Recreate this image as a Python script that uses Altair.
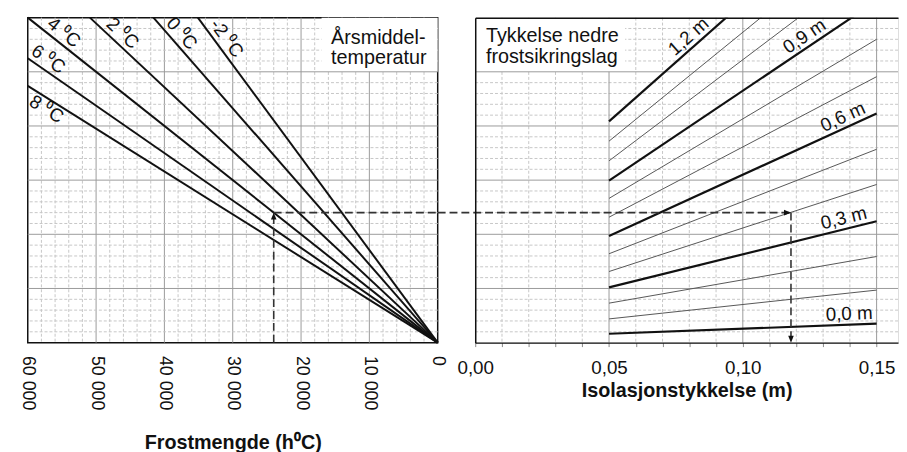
import math
import altair as alt
import numpy as np
import pandas as pd

FONT = "Liberation Sans"

# ---------------- data ----------------
# Left panel: frost amount lines per mean annual temperature
temp_names = ["8 ⁰C", "6 ⁰C", "4 ⁰C", "2 ⁰C", "0 ⁰C", "-2 ⁰C"]
temp_end_frost = [60000, 60000, 60000, 50900, 41600, 35100]
temp_end_depth = [4.74, 5.25, 6.0, 6.0, 6.0, 6.0]
temp_label_frost = [56500, 57900, 55700, 47200, 38650, 32170]
temp_label_below = [True, False, False, False, False, False]

# Right panel: lower frost protection layer thickness lines
layer_m = [0.0, 0.1, 0.2, 0.3, 0.4, 0.5, 0.6, 0.7, 0.8, 0.9, 1.0, 1.1, 1.2]
depth_at_start = [0.164, 0.438, 0.729, 1.021, 1.313, 1.641, 1.970, 2.316, 2.663, 2.991, 3.356, 3.720, 4.085]
depth_at_end = [0.35, 0.97, 1.59, 2.24, 2.92, 3.57, 4.23, 4.91, 5.60, 6.31, 7.09, 7.74, 8.46]
iso_start = 0.05
iso_end = 0.15
thick_layers = [0.0, 0.3, 0.6, 0.9, 1.2]
label_texts = ["0,0 m", "0,3 m", "0,6 m", "0,9 m", "1,2 m"]
label_iso = [0.1399, 0.1387, 0.1391, 0.1253, 0.0824]

frost_ticks = [0, 10000, 20000, 30000, 40000, 50000, 60000]
iso_ticks = [round(i * 0.01, 2) for i in range(0, 16)]

# worked example (dashed arrows)
example_frost = 24000
example_depth = 2.4
example_iso = 0.118

# ---------------- layout ----------------
W1, W2, H = 415, 428, 329
GAP = 38
FROST_MAX = 60000
ISO_MAX = 0.158
DEPTH_MAX = 6

MAJOR = "#9a9a9a"
MINOR = "#c6c6c6"
INK = "#111111"
DASH = "#333333"

xs_left = alt.Scale(domain=[0, FROST_MAX], reverse=True, nice=False, zero=False)
xs_right = alt.Scale(domain=[0, ISO_MAX], nice=False, zero=False)
ys = alt.Scale(domain=[0, DEPTH_MAX], nice=False, zero=False)

# grid tables
fg = pd.DataFrame({"F": np.arange(1, 30) * 2000})
fg["major"] = (np.arange(1, 30) % 5) == 0
dg = pd.DataFrame({"D": np.round(np.arange(1, 30) * 0.2, 1)})
dg["major"] = (np.arange(1, 30) % 5) == 0
ig = pd.DataFrame({"F": np.round(np.arange(1, 16) * 0.01, 2)})
ig["major"] = (np.arange(1, 16) % 5) == 0

left_axis = alt.Axis(
    values=frost_ticks, labelAngle=90,
    labelExpr="replace(format(datum.value, ','), ',', ' ')",
    ticks=False, domain=False, grid=False, labelPadding=13,
    labelFontSize=18, labelFont=FONT, labelColor=INK,
    labelFlush=False, labelOverlap=False,
    title="Frostmengde (h⁰C)", titleFont=FONT, titleFontSize=20,
    titleFontWeight="bold", titleColor=INK, titleY=107, titleBaseline="alphabetic",
)

right_axis = alt.Axis(
    values=iso_ticks,
    labelExpr="round(datum.value*100) % 5 == 0 ? replace(format(datum.value, '.2f'), '.', ',') : ''",
    ticks=True, tickSize=4, tickColor="#888888", tickWidth=1,
    domain=True, domainColor=INK, domainWidth=1.5, grid=False,
    labelPadding=12, labelFontSize=19, labelFont=FONT, labelColor=INK,
    labelFlush=False, labelOverlap=False,
    title="Isolasjonstykkelse (m)", titleFont=FONT, titleFontSize=20,
    titleFontWeight="bold", titleColor=INK, titleY=55, titleBaseline="alphabetic",
    zindex=1,
)
top_axis = alt.Axis(orient="top", labels=False, ticks=False, grid=False, domain=True,
                    domainColor=INK, domainWidth=1.5, title=None, zindex=1)
left_y_axis = alt.Axis(orient="left", labels=False, ticks=False, grid=False, domain=True,
                       domainColor=INK, domainWidth=1.5, title=None, zindex=1)


def xl(axis=None):
    return alt.X("F:Q", scale=xs_left, axis=axis)


def xr(axis=None):
    return alt.X("F:Q", scale=xs_right, axis=axis)


def yy(axis=None):
    return alt.Y("D:Q", scale=ys, axis=axis)


# ---------------- left panel ----------------
l_minor_v = alt.Chart(fg[~fg.major]).mark_rule(color=MINOR, strokeDash=[3, 2], strokeWidth=1).encode(x=xl(left_axis))
l_major_v = alt.Chart(fg[fg.major]).mark_rule(color=MAJOR, strokeWidth=1).encode(x=xl())
l_minor_h = alt.Chart(dg[~dg.major]).mark_rule(color=MINOR, strokeDash=[3, 2], strokeWidth=1).encode(y=yy())
l_box = alt.Chart(pd.DataFrame({"F": [17000], "F2": [0], "D": [5.0], "D2": [6.0]})).mark_rect(
    color="white").encode(x=xl(), x2="F2:Q", y=yy(), y2="D2:Q")
l_major_h = alt.Chart(dg[dg.major]).mark_rule(color=MAJOR, strokeWidth=1).encode(y=yy())

rows = []
for n, f, d in zip(temp_names, temp_end_frost, temp_end_depth):
    rows.append({"name": n, "F": 0, "D": 0})
    rows.append({"name": n, "F": f, "D": d})
l_lines = alt.Chart(pd.DataFrame(rows)).mark_line(color=INK, strokeWidth=2).encode(
    x=xl(), y=yy(), detail="name:N")

lab = []
for n, f, d, lf, below in zip(temp_names, temp_end_frost, temp_end_depth, temp_label_frost, temp_label_below):
    ang = math.degrees(math.atan2(d / DEPTH_MAX * H, f / FROST_MAX * W1))
    lab.append({"name": n, "F": lf, "D": d * lf / f, "angle": ang, "below": below})
lab = pd.DataFrame(lab)
l_lab_above = alt.Chart(lab[~lab.below]).mark_text(
    align="center", baseline="bottom", dy=-1, fontSize=19, font=FONT, color=INK).encode(
    x=xl(), y=yy(), text="name:N", angle=alt.Angle("angle:Q", scale=None))
l_lab_below = alt.Chart(lab[lab.below]).mark_text(
    align="center", baseline="top", dy=1, fontSize=19, font=FONT, color=INK).encode(
    x=xl(), y=yy(), text="name:N", angle=alt.Angle("angle:Q", scale=None))

l_dash_v = alt.Chart(pd.DataFrame({"F": [example_frost], "D": [0], "D2": [example_depth]})).mark_rule(
    color=DASH, strokeDash=[8, 4], strokeWidth=1.6).encode(x=xl(), y=yy(), y2="D2:Q")
l_dash_h = alt.Chart(pd.DataFrame({"F": [example_frost], "F2": [0], "D": [example_depth]})).mark_rule(
    color=DASH, strokeDash=[8, 4], strokeWidth=1.6, clip=False).encode(x=xl(), x2="F2:Q", y=yy())
l_arrow = alt.Chart(pd.DataFrame({"F": [example_frost], "D": [example_depth]})).mark_point(
    shape="M0,0L-0.4,1L0.4,1Z", size=200, filled=True, opacity=1, color=INK, strokeWidth=0).encode(
    x=xl(), y=yy())
l_note = alt.Chart(pd.DataFrame({"t": ["Årsmiddel-\ntemperatur"]})).mark_text(
    align="left", baseline="alphabetic", fontSize=20, lineHeight=21, font=FONT, color=INK,
    lineBreak="\n").encode(x=alt.X(datum=15600, scale=xs_left, axis=None),
                           y=alt.Y(datum=5.52, scale=ys, axis=None), text="t:N")

left = alt.layer(
    l_minor_v, l_major_v, l_minor_h, l_box, l_major_h, l_lines, l_lab_above, l_lab_below,
    l_dash_v, l_dash_h, l_arrow, l_note,
).resolve_axis(x="independent", y="independent").properties(
    width=W1, height=H, view=alt.ViewBackground(stroke=INK, strokeWidth=1.5))

# ---------------- right panel ----------------
r_minor_v = alt.Chart(ig[~ig.major]).mark_rule(color=MINOR, strokeDash=[3, 2], strokeWidth=1).encode(
    x=xr(right_axis))
r_axis_y = alt.Chart(dg[~dg.major]).mark_rule(color=MINOR, strokeDash=[3, 2], strokeWidth=1).encode(
    y=yy(left_y_axis))
r_major_v = alt.Chart(ig[ig.major]).mark_rule(color=MAJOR, strokeWidth=1).encode(x=xr())
r_box = alt.Chart(pd.DataFrame({"F": [0], "F2": [0.056], "D": [5.0], "D2": [6.0]})).mark_rect(
    color="white").encode(x=xr(top_axis), x2="F2:Q", y=yy(), y2="D2:Q")
r_major_h = alt.Chart(dg[dg.major]).mark_rule(color=MAJOR, strokeWidth=1).encode(y=yy())

rrows = []
for m, a, b in zip(layer_m, depth_at_start, depth_at_end):
    thick = any(abs(m - t) < 1e-9 for t in thick_layers)
    w = 2.2 if thick else 1.0
    c = INK if thick else "#555555"
    rrows.append({"m": m, "F": iso_start, "D": a, "w": w, "c": c})
    rrows.append({"m": m, "F": iso_end, "D": b, "w": w, "c": c})
r_lines = alt.Chart(pd.DataFrame(rrows)).mark_line(clip=True).encode(
    x=xr(), y=yy(), detail="m:N",
    strokeWidth=alt.StrokeWidth("w:Q", scale=None), color=alt.Color("c:N", scale=None))

rlab = []
for t, txt, xi in zip(thick_layers, label_texts, label_iso):
    i = layer_m.index(t)
    a, b = depth_at_start[i], depth_at_end[i]
    d = a + (b - a) * (xi - iso_start) / (iso_end - iso_start)
    ang = 360 - math.degrees(math.atan2((b - a) / DEPTH_MAX * H, (iso_end - iso_start) / ISO_MAX * W2))
    rlab.append({"name": txt, "F": xi, "D": d, "angle": ang})
r_lab = alt.Chart(pd.DataFrame(rlab)).mark_text(
    align="center", baseline="bottom", dy=-1, fontSize=19, font=FONT, color=INK).encode(
    x=xr(), y=yy(), text="name:N", angle=alt.Angle("angle:Q", scale=None))

gap_iso = GAP / W2 * ISO_MAX
r_dash_h = alt.Chart(pd.DataFrame({"F": [-gap_iso], "F2": [example_iso], "D": [example_depth]})).mark_rule(
    color=DASH, strokeDash=[8, 4], strokeWidth=1.6, clip=False).encode(x=xr(), x2="F2:Q", y=yy())
r_dash_v = alt.Chart(pd.DataFrame({"F": [example_iso], "D": [example_depth], "D2": [0]})).mark_rule(
    color=DASH, strokeDash=[8, 4], strokeWidth=1.6).encode(x=xr(), y=yy(), y2="D2:Q")
r_arrow_r = alt.Chart(pd.DataFrame({"F": [example_iso], "D": [example_depth]})).mark_point(
    shape="M0,0L-1,-0.4L-1,0.4Z", size=200, filled=True, opacity=1, color=INK, strokeWidth=0).encode(
    x=xr(), y=yy())
r_arrow_d = alt.Chart(pd.DataFrame({"F": [example_iso], "D": [0]})).mark_point(
    shape="M0,0L-0.4,-1L0.4,-1Z", size=200, filled=True, opacity=1, color=INK, strokeWidth=0).encode(
    x=xr(), y=yy())
r_note = alt.Chart(pd.DataFrame({"t": ["Tykkelse nedre\nfrostsikringslag"]})).mark_text(
    align="left", baseline="alphabetic", fontSize=20, lineHeight=21, font=FONT, color=INK,
    lineBreak="\n").encode(x=alt.X(datum=0.004, scale=xs_right, axis=None),
                           y=alt.Y(datum=5.55, scale=ys, axis=None), text="t:N")

right = alt.layer(
    r_minor_v, r_axis_y, r_major_v, r_box, r_major_h, r_lines, r_lab,
    r_dash_h, r_dash_v, r_arrow_r, r_arrow_d, r_note,
).resolve_axis(x="independent", y="independent").properties(width=W2, height=H)

chart = alt.hconcat(left, right, spacing=GAP, bounds="flush").properties(
    padding={"left": 10, "top": 2, "right": 0, "bottom": 0},
    background="white",
).configure_view(stroke=None).configure(font=FONT)

chart.save("out.html", embed_options={"renderer": "svg", "actions": False})
